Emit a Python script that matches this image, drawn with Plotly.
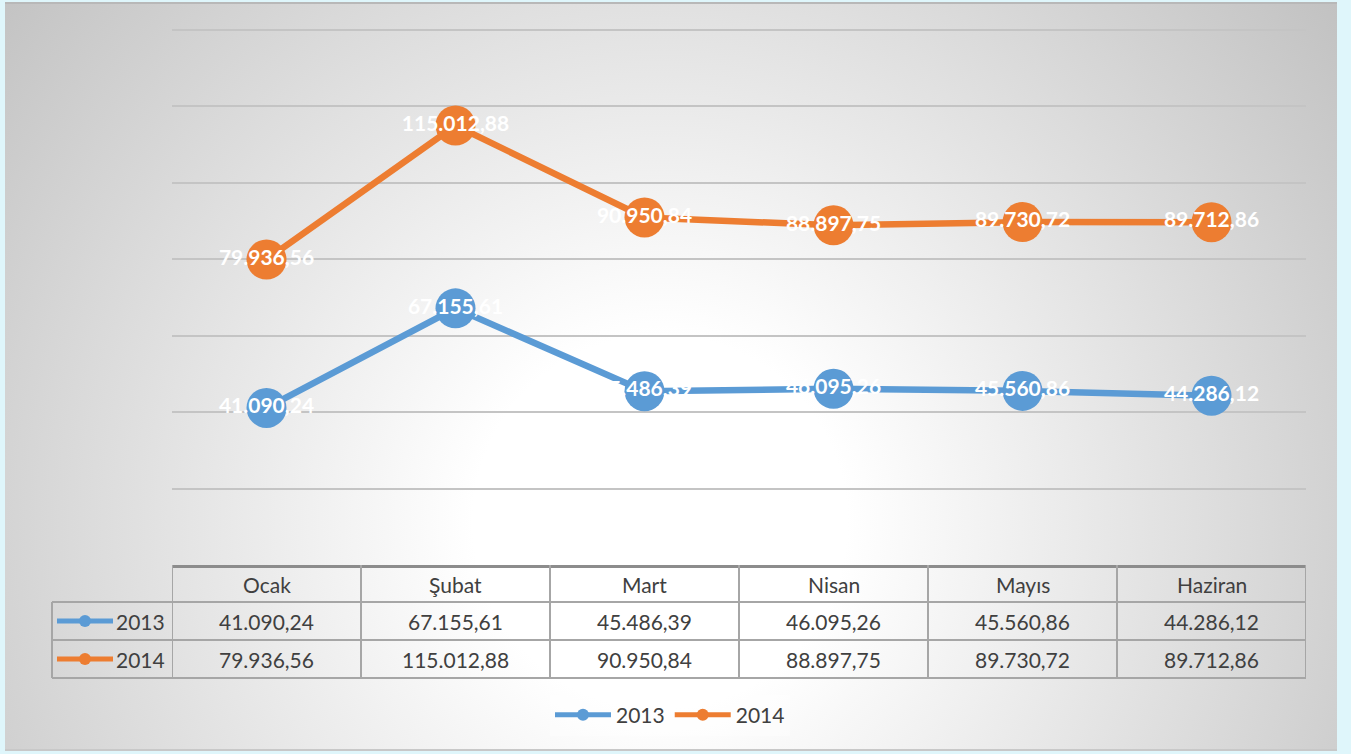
import base64
import plotly.graph_objects as go

# ---- data ----
months = ["Ocak", "Şubat", "Mart", "Nisan", "Mayıs", "Haziran"]
series_names = ["2013", "2014"]
values_2013 = [41090.24, 67155.61, 45486.39, 46095.26, 45560.86, 44286.12]
values_2014 = [79936.56, 115012.88, 90950.84, 88897.75, 89730.72, 89712.86]
grid_values = [20000, 40000, 60000, 80000, 100000, 120000, 140000]

BLUE = "#5b9bd5"
ORANGE = "#ed7d31"
TEXT = "#404040"
FONT = "Lato"
FS = 21

W, H = 1351, 754
PL, PR, PT, PB = 172, 1306, 26, 565  # plot area in pixels
YMAX = 140000 * (PB - PT) / (PB - 30)


def px_x(p):
    return (p - PL) / (PR - PL)


def px_y(p):
    return (PB - p) / (PB - PT)


def fmt(v):
    s = f"{v:,.2f}"
    return s.replace(",", "X").replace(".", ",").replace("X", ".")


fig = go.Figure()
for name, vals, col in [(series_names[0], values_2013, BLUE), (series_names[1], values_2014, ORANGE)]:
    fig.add_trace(go.Scatter(
        x=list(range(len(months))), y=vals, name=name,
        mode="lines+markers+text",
        line=dict(color=col, width=6.5),
        marker=dict(color=col, size=40),
        text=[fmt(v) for v in vals],
        textposition="middle center",
        textfont=dict(family=FONT, size=FS, color="white", weight="bold"),
        cliponaxis=False,
        hoverinfo="skip",
    ))

# background gradient (decoration)
svg = f'''<svg xmlns="http://www.w3.org/2000/svg" width="1332" height="749" viewBox="0 0 1332 749" preserveAspectRatio="none">
<defs><radialGradient id="g" gradientUnits="userSpaceOnUse" cx="655" cy="520" r="850">
<stop offset="0.22" stop-color="#ffffff"/><stop offset="1" stop-color="#c2c2c2"/></radialGradient></defs>
<rect x="0" y="0" width="1332" height="749" fill="url(#g)"/>
<rect x="0" y="0" width="1332" height="2" fill="#b8b8b8"/>
<rect x="0" y="747" width="1332" height="2" fill="#c8c8c8"/>
</svg>'''
src = "data:image/svg+xml;base64," + base64.b64encode(svg.encode()).decode()

shapes = []
LC = "#a6a6a6"
rows_y = [565, 602, 640, 678]
for yy in rows_y[1:]:
    shapes.append(dict(type="line", xref="paper", yref="paper", x0=px_x(52), x1=px_x(PR),
                       y0=px_y(yy), y1=px_y(yy), line=dict(color=LC, width=2)))
shapes.append(dict(type="line", xref="paper", yref="paper", x0=px_x(52), x1=px_x(52),
                   y0=px_y(602), y1=px_y(678), line=dict(color=LC, width=2)))
for i in range(len(months) + 1):
    shapes.append(dict(type="line", xref="x", yref="paper", x0=i - 0.5, x1=i - 0.5,
                       y0=px_y(565), y1=px_y(678), line=dict(color=LC, width=2)))
for yy, col in [(621, BLUE), (659, ORANGE)]:
    shapes.append(dict(type="line", xref="paper", yref="paper", x0=px_x(57), x1=px_x(113),
                       y0=px_y(yy), y1=px_y(yy), line=dict(color=col, width=5)))
    shapes.append(dict(type="circle", xref="paper", yref="paper", x0=px_x(79), x1=px_x(91),
                       y0=px_y(yy - 6), y1=px_y(yy + 6), line=dict(width=0), fillcolor=col))

annotations = []
for i, m in enumerate(months):
    for yy, txt in [(584, m), (621, fmt(values_2013[i])), (659, fmt(values_2014[i]))]:
        annotations.append(dict(x=i, y=px_y(yy), xref="x", yref="paper", text=txt, showarrow=False,
                                font=dict(family=FONT, size=FS, color=TEXT), xanchor="center", yanchor="middle"))
for yy, nm in [(621, series_names[0]), (659, series_names[1])]:
    annotations.append(dict(x=px_x(167), y=px_y(yy), xref="paper", yref="paper", text=nm, showarrow=False,
                            font=dict(family=FONT, size=FS, color=TEXT), xanchor="right", yanchor="middle"))

fig.update_layout(
    width=W, height=H,
    margin=dict(l=PL, r=W - PR, t=PT, b=H - PB, pad=0),
    paper_bgcolor="#dff6fb",
    plot_bgcolor="rgba(0,0,0,0)",
    images=[dict(source=src, xref="paper", yref="paper", x=px_x(5), y=px_y(2),
                 sizex=1332 / (PR - PL), sizey=749 / (PB - PT), xanchor="left", yanchor="top",
                 sizing="stretch", layer="below")],
    xaxis=dict(range=[-0.5, len(months) - 0.5], showgrid=False, zeroline=False,
               showticklabels=False, ticks="", showline=True, linecolor="#8c8c8c", linewidth=3,
               fixedrange=True),
    yaxis=dict(range=[0, YMAX], tickvals=grid_values,
               showgrid=True, gridcolor="#c4c4c4", gridwidth=1.5,
               zeroline=False, showticklabels=False, ticks="", showline=False, fixedrange=True),
    showlegend=True,
    legend=dict(orientation="h", x=px_x(670), y=px_y(715), xanchor="center", yanchor="middle",
                bgcolor="rgba(255,255,255,0.35)", font=dict(family=FONT, size=FS, color=TEXT),
                itemwidth=56, itemsizing="constant", itemclick=False, itemdoubleclick=False),
    shapes=shapes,
    annotations=annotations,
    font=dict(family=FONT),
)

fig.write_html("out.html", config={"displayModeBar": False},
               post_script="document.body.style.margin='0';")
